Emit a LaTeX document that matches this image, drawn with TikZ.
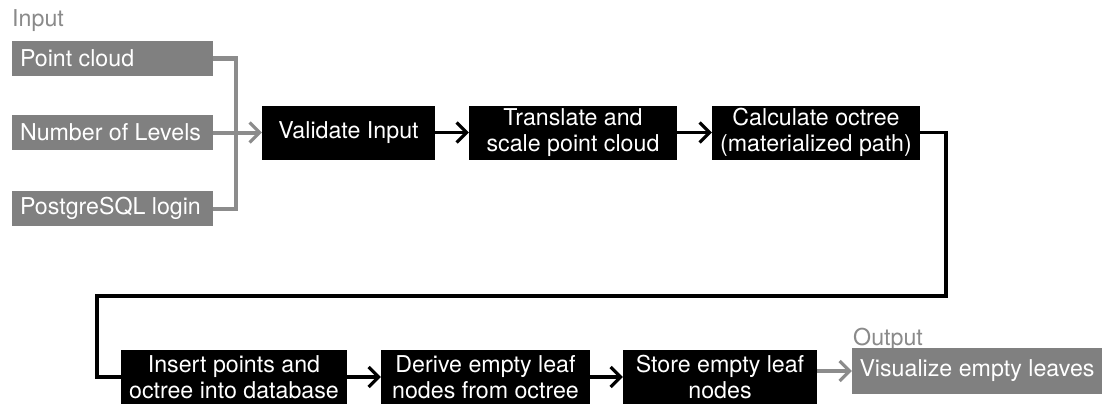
\documentclass[tikz,border=0pt]{standalone}
\usepackage{fontspec}
\setmainfont{TeX Gyre Heros}
\usetikzlibrary{arrows.meta}
\definecolor{boxgray}{HTML}{808080}
\definecolor{linegray}{HTML}{8C8C8C}
\definecolor{labelgray}{HTML}{8A8A8A}
% left-aligned label of fixed width for the input boxes
\newcommand\leftcell[1]{\makebox[185pt][l]{#1}}
\tikzset{
  txt/.style={font=\fontsize{23.2}{25.5}\selectfont},
  inbox/.style={txt, fill=boxgray, text=white, inner xsep=8pt, inner ysep=0pt,
    minimum width=201pt, minimum height=35pt},
  stepbox/.style={txt, fill=black, text=white, inner sep=0pt, align=center,
    minimum height=54pt},
  outbox/.style={txt, fill=boxgray, text=white, inner sep=0pt, align=center,
    minimum height=46pt, minimum width=250pt},
  head/.style={txt, text=labelgray, inner sep=0pt, anchor=base west},
  gline/.style={draw=linegray, line width=4pt, line join=miter},
  bline/.style={draw=black, line width=3.2pt, line join=miter},
  tip/.style={-{Straight Barb[length=10pt, width=20pt, line width=3.2pt]}},
}
\begin{document}
\begin{tikzpicture}[x=1pt, y=-1pt]
  \useasboundingbox (0,0) rectangle (1107,404);

  % input column
  \node[head] (inlabel) at (12,27) {Input};
  \node[inbox] (pc) at (112.5,58.5) {\leftcell{Point cloud}};
  \node[inbox] (nl) at (112.5,132.5) {\leftcell{Number of Levels}};
  \node[inbox] (pg) at (112.5,208.5) {\leftcell{PostgreSQL login}};

  % processing steps, top row
  \node[stepbox, minimum width=173pt] (val) at (348.5,132.5) {Validate Input};
  \node[stepbox, minimum width=208pt] (tr) at (573,132.5) {Translate and\\scale point cloud};
  \node[stepbox, minimum width=208pt] (calc) at (816,132.5) {Calculate octree\\(materialized path)};

  % processing steps, bottom row
  \node[stepbox, minimum width=226pt] (ins) at (234,377) {Insert points and\\octree into database};
  \node[stepbox, minimum width=209pt] (der) at (485.5,377) {Derive empty leaf\\nodes from octree};
  \node[stepbox, minimum width=194pt] (sto) at (720,377) {Store empty leaf\\nodes};

  % output
  \node[head] (outlabel) at (853,345) {Output};
  \node[outbox] (vis) at (977,371) {Visualize empty leaves};

  % input bus
  \coordinate (bus) at (236,132.5);
  \draw[gline] (pc.east) -| (bus) |- (pg.east);
  \draw[gline, tip] (nl.east) -- (val.west);

  % main flow
  \draw[bline, tip] (val.east) -- (tr.west);
  \draw[bline, tip] (tr.east) -- (calc.west);
  \coordinate (turnR) at (946,296);
  \coordinate (turnL) at (97,296);
  \draw[bline] (calc.east) -| (turnR) -- (turnL) |- (ins.west);
  \draw[bline, tip] (ins.east) -- (der.west);
  \draw[bline, tip] (der.east) -- (sto.west);
  \draw[gline, tip] (sto.east |- vis.west) -- (vis.west);
\end{tikzpicture}
\end{document}
